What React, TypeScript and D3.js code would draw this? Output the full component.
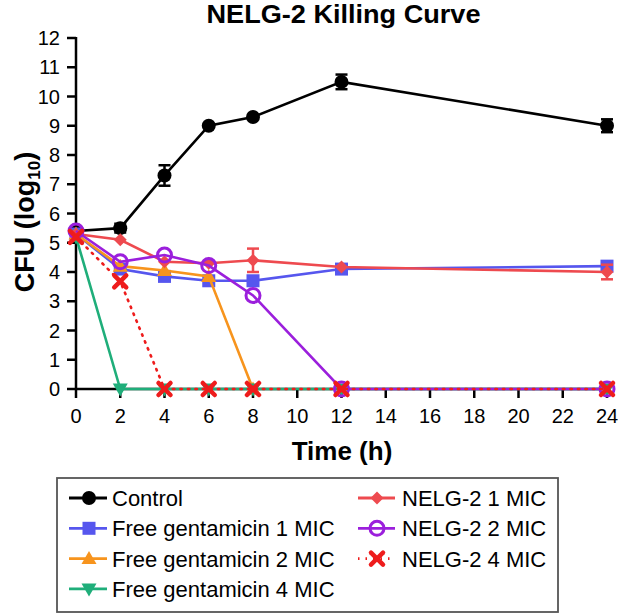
import React from "react";
import * as d3 from "d3";

const times = [0, 2, 4, 6, 8, 12, 24];
const xTicks = [0, 2, 4, 6, 8, 10, 12, 14, 16, 18, 20, 22, 24];
const yTicks = [0, 1, 2, 3, 4, 5, 6, 7, 8, 9, 10, 11, 12];

const controlVals = [5.4, 5.5, 7.3, 9.0, 9.3, 10.5, 9.0];
const controlErr = [0.1, 0.15, 0.35, 0.05, 0.05, 0.25, 0.22];
const freeGent1 = [5.3, 4.1, 3.85, 3.7, 3.7, 4.1, 4.2];
const freeGent1Err = [0, 0, 0, 0, 0.15, 0.15, 0.15];
const freeGent2 = [5.3, 4.2, 4.05, 3.85, 0];
const freeGent4 = [5.2, 0, 0, 0, 0, 0, 0];
const nelg1 = [5.3, 5.1, 4.35, 4.3, 4.4, 4.17, 4.0];
const nelg1Err = [0, 0, 0, 0, 0.4, 0.05, 0.25];
const nelg2 = [5.4, 4.35, 4.58, 4.22, 3.2, 0, 0];
const nelg4 = [5.2, 3.68, 0, 0, 0, 0, 0];

const title = "NELG-2 Killing Curve";

type Series = {
  name: string;
  vals: number[];
  err?: number[];
  color: string;
  marker: string;
  dash?: string;
};

const series: Series[] = [
  { name: "Control", vals: controlVals, err: controlErr, color: "#000000", marker: "circle" },
  { name: "Free gentamicin 1 MIC", vals: freeGent1, err: freeGent1Err, color: "#5656ee", marker: "square" },
  { name: "Free gentamicin 2 MIC", vals: freeGent2, color: "#f7941d", marker: "triangle" },
  { name: "Free gentamicin 4 MIC", vals: freeGent4, color: "#1fae7a", marker: "triangleDown" },
  { name: "NELG-2 1 MIC", vals: nelg1, err: nelg1Err, color: "#ee4a4f", marker: "diamond" },
  { name: "NELG-2 2 MIC", vals: nelg2, color: "#9b1fdc", marker: "openCircle" },
  { name: "NELG-2 4 MIC", vals: nelg4, color: "#ee1c1c", marker: "cross", dash: "1.5 6" },
];

const legendLeft = ["Control", "Free gentamicin 1 MIC", "Free gentamicin 2 MIC", "Free gentamicin 4 MIC"];
const legendRight = ["NELG-2 1 MIC", "NELG-2 2 MIC", "NELG-2 4 MIC"];

const x = d3.scaleLinear().domain([0, 24]).range([76, 607]);
const y = d3.scaleLinear().domain([0, 12]).range([389, 38]);

function Marker({ type, cx, cy, color }: { type: string; cx: number; cy: number; color: string }) {
  switch (type) {
    case "circle":
      return <circle cx={cx} cy={cy} r={7} fill={color} />;
    case "square":
      return <rect x={cx - 6.5} y={cy - 6.5} width={13} height={13} fill={color} />;
    case "triangle": {
      const p = d3.path();
      p.moveTo(cx, cy - 7.5);
      p.lineTo(cx + 7.5, cy + 5.5);
      p.lineTo(cx - 7.5, cy + 5.5);
      p.closePath();
      return <path d={p.toString()} fill={color} />;
    }
    case "triangleDown": {
      const p = d3.path();
      p.moveTo(cx, cy + 7.5);
      p.lineTo(cx + 7.5, cy - 5.5);
      p.lineTo(cx - 7.5, cy - 5.5);
      p.closePath();
      return <path d={p.toString()} fill={color} />;
    }
    case "diamond": {
      const p = d3.path();
      p.moveTo(cx, cy - 6.5);
      p.lineTo(cx + 6.5, cy);
      p.lineTo(cx, cy + 6.5);
      p.lineTo(cx - 6.5, cy);
      p.closePath();
      return <path d={p.toString()} fill={color} />;
    }
    case "openCircle":
      return <circle cx={cx} cy={cy} r={7} fill="white" fillOpacity={0} stroke={color} strokeWidth={3} />;
    case "cross":
      return (
        <g stroke={color} strokeWidth={4.5} strokeLinecap="round">
          <line x1={cx - 6} y1={cy - 6} x2={cx + 6} y2={cy + 6} />
          <line x1={cx - 6} y1={cy + 6} x2={cx + 6} y2={cy - 6} />
        </g>
      );
    default:
      return null;
  }
}

export default function App() {
  const line = d3
    .line<number>()
    .x((_, i) => x(times[i]))
    .y((d) => y(d));

  return (
    <svg width={618} height={615} style={{ position: "absolute", left: 0, top: 0 }} fontFamily="Liberation Sans, Arial, sans-serif">
      <rect width={618} height={615} fill="white" />
      <text x={343.5} y={23} textAnchor="middle" fontWeight="bold" fontSize={25} textLength={274} lengthAdjust="spacingAndGlyphs">
        {title}
      </text>

      {/* axes */}
      <g stroke="#000" strokeWidth={2.5}>
        <line x1={x(0)} y1={y(12) - 1} x2={x(0)} y2={y(0)} />
        <line x1={x(0)} y1={y(0)} x2={x(24)} y2={y(0)} />
        {yTicks.map((t) => (
          <line key={"yt" + t} x1={x(0) - 9} x2={x(0)} y1={y(t)} y2={y(t)} />
        ))}
        {xTicks.map((t) => (
          <line key={"xt" + t} x1={x(t)} x2={x(t)} y1={y(0)} y2={y(0) + 9} />
        ))}
      </g>
      {yTicks.map((t) => (
        <text key={"yl" + t} x={60} y={y(t) + 7} textAnchor="end" fontSize={20}>
          {t}
        </text>
      ))}
      {xTicks.map((t) => (
        <text key={"xl" + t} x={x(t)} y={423} textAnchor="middle" fontSize={20}>
          {t}
        </text>
      ))}
      <text x={342} y={460} textAnchor="middle" fontWeight="bold" fontSize={26}>
        Time (h)
      </text>
      <text transform="translate(34,222) rotate(-90)" textAnchor="middle" fontWeight="bold" fontSize={27}>
        CFU (log
        <tspan fontSize={17} dy={6}>10</tspan>
        <tspan dy={-6}>)</tspan>
      </text>

      {/* series */}
      {series.map((s) => (
        <g key={s.name}>
          <path d={line(s.vals) || ""} fill="none" stroke={s.color} strokeWidth={2.6} strokeDasharray={s.dash} strokeLinecap={s.dash ? "round" : "butt"} />
          {s.err &&
            s.err.map((e, i) =>
              e > 0.12 ? (
                <g key={i} stroke={s.color} strokeWidth={2.5}>
                  <line x1={x(times[i])} x2={x(times[i])} y1={y(s.vals[i] - e)} y2={y(s.vals[i] + e)} />
                  <line x1={x(times[i]) - 6} x2={x(times[i]) + 6} y1={y(s.vals[i] - e)} y2={y(s.vals[i] - e)} />
                  <line x1={x(times[i]) - 6} x2={x(times[i]) + 6} y1={y(s.vals[i] + e)} y2={y(s.vals[i] + e)} />
                </g>
              ) : null
            )}
          {s.vals.map((v, i) => (
            <Marker key={i} type={s.marker} cx={x(times[i])} cy={y(v)} color={s.color} />
          ))}
        </g>
      ))}

      {/* legend */}
      <rect x={57} y={478} width={501} height={134} fill="none" stroke="#555" strokeWidth={1.8} />
      {legendLeft.map((name, i) => {
        const s = series.find((d) => d.name === name)!;
        const ly = 498 + i * 30.3;
        return (
          <g key={name}>
            <line x1={69} x2={107} y1={ly} y2={ly} stroke={s.color} strokeWidth={2.8} strokeDasharray={s.dash} />
            <Marker type={s.marker} cx={89} cy={ly} color={s.color} />
            <text x={112} y={ly + 8} fontSize={22}>
              {name}
            </text>
          </g>
        );
      })}
      {legendRight.map((name, i) => {
        const s = series.find((d) => d.name === name)!;
        const ly = 498 + i * 30.3;
        return (
          <g key={name}>
            <line x1={358} x2={395} y1={ly} y2={ly} stroke={s.color} strokeWidth={2.8} strokeDasharray={s.dash} />
            <Marker type={s.marker} cx={377} cy={ly} color={s.color} />
            <text x={402} y={ly + 8} fontSize={22}>
              {name}
            </text>
          </g>
        );
      })}
    </svg>
  );
}
